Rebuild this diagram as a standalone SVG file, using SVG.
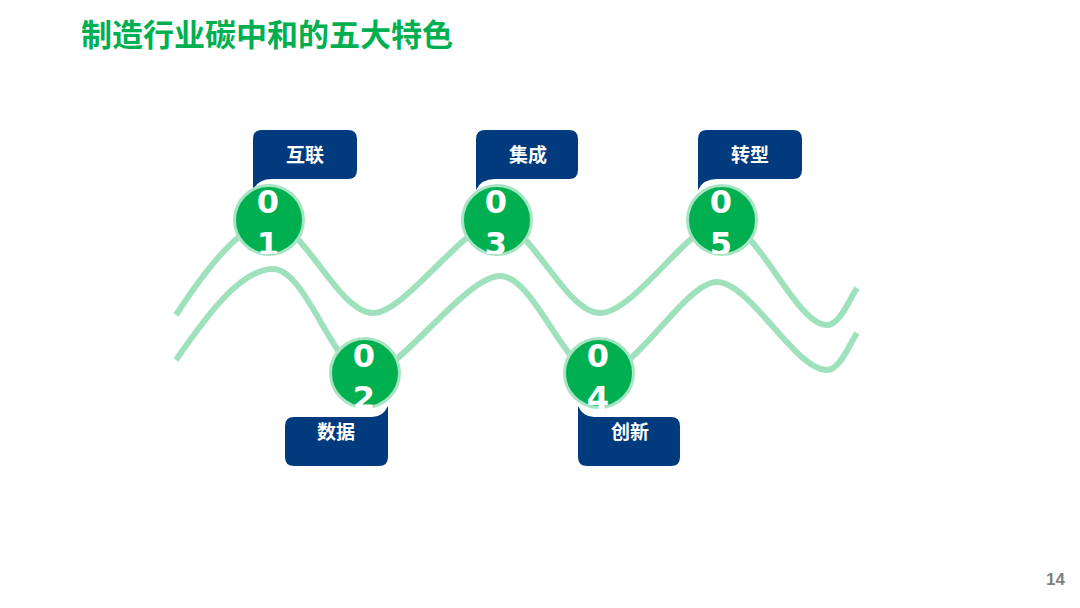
<svg xmlns="http://www.w3.org/2000/svg" width="1080" height="608" viewBox="0 0 1080 608">
<style>
.title{font-family:"Noto Sans CJK SC","Noto Sans",sans-serif;font-weight:bold;font-size:31px;fill:#00b050}
.wave{fill:none;stroke:#a0e1bd;stroke-width:6;stroke-linecap:butt}
.dot{fill:#00b050;stroke:#a8e4c3;stroke-width:3}
.num{font-family:"DejaVu Sans",sans-serif;font-weight:bold;font-size:32px;fill:#ffffff;text-anchor:middle}
.box{fill:#023a7e}
.lab{font-family:"Noto Sans CJK SC","Noto Sans",sans-serif;font-weight:bold;font-size:19px;fill:#ffffff;text-anchor:middle}
.pg{font-family:"Liberation Sans",Arial,sans-serif;font-weight:bold;font-size:17px;fill:#7f7f7f}
</style>
<defs>
<clipPath id="c1"><rect x="230" y="180" width="80" height="74"/></clipPath>
<clipPath id="c2"><rect x="325" y="333" width="80" height="76"/></clipPath>
<clipPath id="c3"><rect x="457" y="180" width="80" height="74"/></clipPath>
<clipPath id="c4"><rect x="559" y="333" width="80" height="76"/></clipPath>
<clipPath id="c5"><rect x="682" y="180" width="80" height="74"/></clipPath>
</defs>
<rect width="1080" height="608" fill="#ffffff"/>
<text class="title" x="81" y="46">制造行业碳中和的五大特色</text>
<g id="waves">
<path class="wave" d="M176,315 C200,278 240,222 270,222 C303,222 338,313 373,313 C406,313 465,222 497,222 C530,222 565,313 600,313 C635,313 690,222 722,222 C757,222 795,325 827,325 C840,325 850,298 857,288"/>
<path class="wave" d="M176,360 C205,318 240,269 273,269 C307,269 335,375 367,375 C398,375 465,276 500,276 C535,276 565,375 599,375 C635,375 685,282 717,282 C750,282 795,370 827,370 C840,370 850,343 857,333"/>
</g>
<g id="node1">
<path class="box" d="M262,130 H348 Q357,130 357,139 V170 Q357,179 348,179 H272 Q258,179 253,190 V139 Q253,130 262,130 Z"/>
<text class="lab" x="305" y="162">互联</text>
<circle class="dot" cx="269" cy="220" r="34.5"/>
<g clip-path="url(#c1)"><text class="num" x="268" y="213">0</text><text class="num" x="268" y="255">1</text></g>
</g>
<g id="node2">
<path class="box" d="M294,417 H372 Q383,417 388,406 V457 Q388,466 379,466 H294 Q285,466 285,457 V426 Q285,417 294,417 Z"/>
<text class="lab" x="336" y="439">数据</text>
<circle class="dot" cx="365" cy="373" r="34.5"/>
<g clip-path="url(#c2)"><text class="num" x="364" y="367">0</text><text class="num" x="364" y="409">2</text></g>
</g>
<g id="node3">
<path class="box" d="M485,130 H569 Q578,130 578,139 V170 Q578,179 569,179 H495 Q481,179 476,190 V139 Q476,130 485,130 Z"/>
<text class="lab" x="528" y="162">集成</text>
<circle class="dot" cx="497" cy="220" r="34.5"/>
<g clip-path="url(#c3)"><text class="num" x="496" y="213">0</text><text class="num" x="496" y="255">3</text></g>
</g>
<g id="node4">
<path class="box" d="M578,406 Q583,417 594,417 H671 Q680,417 680,426 V457 Q680,466 671,466 H587 Q578,466 578,457 Z"/>
<text class="lab" x="630" y="439">创新</text>
<circle class="dot" cx="599" cy="373" r="34.5"/>
<g clip-path="url(#c4)"><text class="num" x="598" y="367">0</text><text class="num" x="598" y="409">4</text></g>
</g>
<g id="node5">
<path class="box" d="M707,130 H793 Q802,130 802,139 V170 Q802,179 793,179 H717 Q703,179 698,190 V139 Q698,130 707,130 Z"/>
<text class="lab" x="750" y="162">转型</text>
<circle class="dot" cx="722" cy="220" r="34.5"/>
<g clip-path="url(#c5)"><text class="num" x="721" y="213">0</text><text class="num" x="721" y="255">5</text></g>
</g>
<text class="pg" x="1046" y="585">14</text>
</svg>
